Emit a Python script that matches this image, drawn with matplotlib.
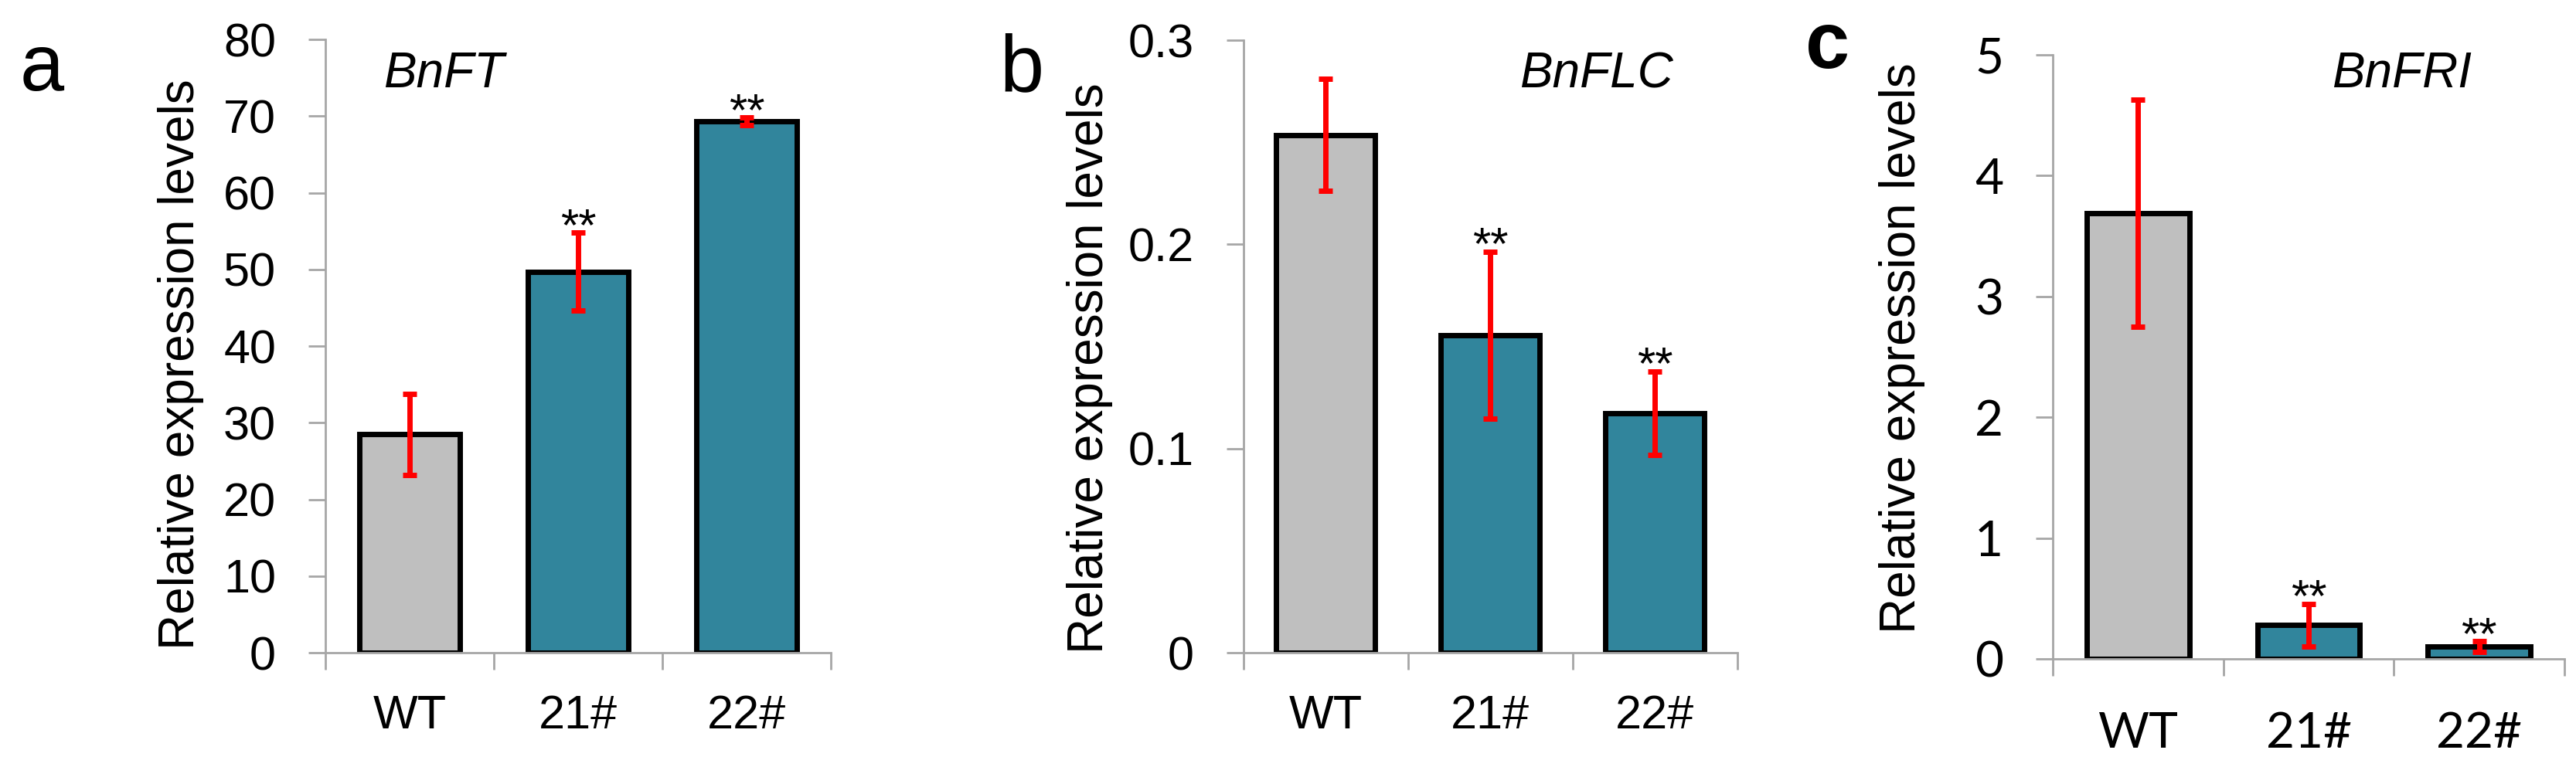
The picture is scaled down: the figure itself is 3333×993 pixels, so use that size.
import numpy as np
import matplotlib.pyplot as plt

plt.rcParams['font.family'] = ['Liberation Sans', 'DejaVu Sans']

groups = ["WT", "21#", "22#"]

ft_mean = [28.5, 49.7, 69.3]
ft_err = [5.3, 5.1, 0.5]
flc_mean = [0.2536, 0.1555, 0.1173]
flc_err = [0.0275, 0.041, 0.0206]
fri_mean = [3.69, 0.28, 0.10]
fri_err = [0.94, 0.175, 0.045]

stars = ["", "**", "**"]

GREY = "#BFBFBF"
TEAL = "#31859C"
SPINE = "#A6A6A6"

fig = plt.figure(figsize=(33.33, 9.93), dpi=100)

panels = [
    # rect, means, errs, ylim, yticks, gene, gene pos, tick font, tick size, label pad, ylabel coords
    ([0.1263, 0.149, 0.1962, 0.7996], ft_mean, ft_err, 80, np.arange(0, 81, 10),
     "BnFT", (0.115, 0.922), "Liberation Sans", 44, 39, (-0.240, 0.47)),
    ([0.4827, 0.149, 0.1917, 0.7986], flc_mean, flc_err, 0.3, [0, 0.1, 0.2, 0.3],
     "BnFLC", (0.559, 0.922), "Liberation Sans", 44, 39, (-0.264, 0.465)),
    ([0.7969, 0.141, 0.1986, 0.7875], fri_mean, fri_err, 5, np.arange(0, 6, 1),
     "BnFRI", (0.545, 0.946), "Lato", 46, 49, (-0.250, 0.515)),
]

x = np.arange(len(groups))
for (rect, means, errs, ytop, yticks, gene, gpos, tfont, tsize, xpad, ylc) in panels:
    ax = fig.add_axes(rect)
    ax.bar(x, means, width=0.6, color=[GREY, TEAL, TEAL], edgecolor="black",
           linewidth=5, zorder=2)
    ax.errorbar(x, means, yerr=errs, fmt="none", ecolor="red", elinewidth=5,
                capsize=6.5, capthick=5, zorder=3)
    for xi, m, e, s in zip(x, means, errs, stars):
        if s:
            ax.annotate(s, (xi, m + e), xytext=(0, -7), textcoords="offset points",
                        ha="center", va="baseline", fontsize=43)

    ax.set_xlim(-0.5, 2.5)
    ax.set_ylim(0, ytop)
    ax.set_yticks(yticks)
    ax.set_yticklabels([f"{v:g}" for v in yticks], fontsize=tsize, family=tfont)
    ax.tick_params(axis="y", direction="out", length=16, width=2, color=SPINE, pad=30)

    # tick marks between the categories, labels under the bars
    ax.set_xticks([-0.5, 0.5, 1.5, 2.5])
    ax.set_xticklabels([])
    ax.tick_params(axis="x", which="major", direction="out", length=16, width=2, color=SPINE)
    ax.set_xticks(x, minor=True)
    ax.set_xticklabels(groups, minor=True, fontsize=tsize, family=tfont)
    ax.tick_params(axis="x", which="minor", length=0, pad=xpad)

    for side in ["top", "right"]:
        ax.spines[side].set_visible(False)
    for side in ["left", "bottom"]:
        ax.spines[side].set_color(SPINE)
        ax.spines[side].set_linewidth(2)
    ax.spines["bottom"].set_zorder(4)

    ax.set_ylabel("Relative expression levels", fontsize=46)
    ax.yaxis.set_label_coords(*ylc)

    ax.text(gpos[0], gpos[1], gene, transform=ax.transAxes, fontsize=46,
            style="italic", ha="left", va="baseline")

fig.text(0.0078, 0.882, "a", fontsize=74, ha="left", va="baseline")
fig.text(0.388, 0.882, "b", fontsize=74, ha="left", va="baseline")
fig.text(0.701, 0.911, "c", fontsize=74, fontweight="bold", ha="left", va="baseline")

fig.savefig("out.png", dpi=100)
